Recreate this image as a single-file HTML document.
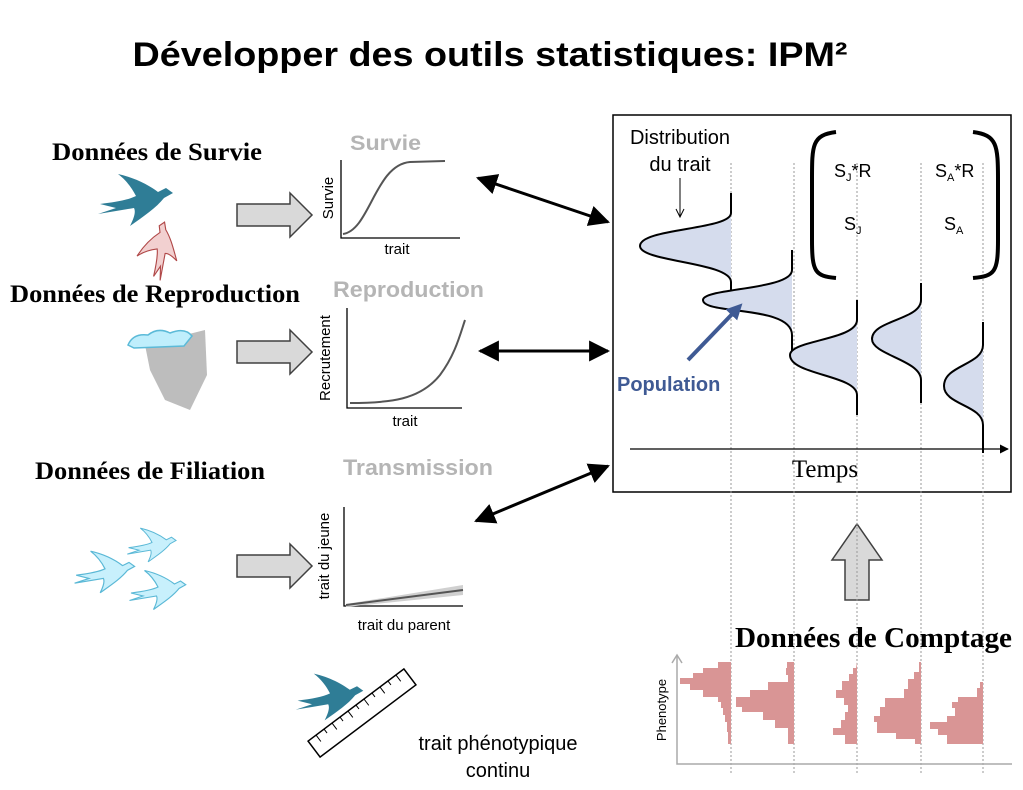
<!DOCTYPE html>
<html><head><meta charset="utf-8"><style>
html,body{margin:0;padding:0;background:#fff;}
svg{display:block;}
</style></head><body>
<svg width="1023" height="790" viewBox="0 0 1023 790" xmlns="http://www.w3.org/2000/svg">
<defs>
<path id="bird" d="M-36,4 C-20,2 -8,0 0,-4 C-4,-12 -10,-20 -18,-26 C0,-22 14,-14 22,-8 L30,-12 L37,-7 L28,-2 C20,8 8,16 -6,26 C-2,18 0,12 -2,8 C-14,10 -26,12 -38,14 L-20,8 Z"/>
<marker id="ah" viewBox="0 0 10 10" refX="9" refY="5" markerWidth="7" markerHeight="7" orient="auto-start-reverse"><path d="M0,0 L10,5 L0,10 z" fill="#000"/></marker>
<marker id="ab" viewBox="0 0 10 10" refX="6" refY="5" markerWidth="4" markerHeight="4" orient="auto"><path d="M0,0 L10,5 L0,10 z" fill="#3f5a94"/></marker>
</defs>
<text x="490" y="66" text-anchor="middle" font-family="Liberation Sans, sans-serif" font-weight="bold" font-size="34" textLength="715" lengthAdjust="spacingAndGlyphs">Développer des outils statistiques: IPM²</text>

<g font-family="Liberation Serif, serif" font-weight="bold" font-size="25">
<text x="52" y="160" textLength="210" lengthAdjust="spacingAndGlyphs">Données de Survie</text>
<text x="10" y="302" textLength="290" lengthAdjust="spacingAndGlyphs">Données de Reproduction</text>
<text x="35" y="479" textLength="230" lengthAdjust="spacingAndGlyphs">Données de Filiation</text>
</g>

<use href="#bird" transform="translate(136,200)" fill="#2f7d96"/>
<g transform="translate(160,250) rotate(-70) scale(0.75)"><use href="#bird" fill="#f2d0d0" stroke="#b04848" stroke-width="1.5"/></g>
<path d="M145,345 L205,330 L207,375 L190,410 L165,400 L150,370 Z" fill="#bdbdbd"/>
<path d="M128,345 q5,-12 20,-10 q10,-8 22,-2 q15,-6 22,3 l-8,10 l-50,2 z" fill="#bfeefc" stroke="#5bbad8" stroke-width="1.5"/>
<g fill="#c8f0fc" stroke="#5ab8d6" stroke-width="1.5">
<use href="#bird" transform="translate(105,572) scale(0.8)"/>
<use href="#bird" transform="translate(152,545) scale(0.65)"/>
<use href="#bird" transform="translate(158,590) scale(0.75)"/>
</g>

<g fill="#d9d9d9" stroke="#404040" stroke-width="1.5">
<path d="M237,204 L290,204 L290,193 L312,215 L290,237 L290,226 L237,226 Z"/>
<path d="M237,341 L290,341 L290,330 L312,352 L290,374 L290,363 L237,363 Z"/>
<path d="M237,555 L290,555 L290,544 L312,566 L290,588 L290,577 L237,577 Z"/>
<path d="M845,600 L845,560 L832,560 L857,524 L882,560 L869,560 L869,600 Z"/>
</g>

<g font-family="Liberation Sans, sans-serif">
<text x="350" y="150" font-weight="bold" font-size="21" fill="#b5b5b5" textLength="71" lengthAdjust="spacingAndGlyphs">Survie</text>
<text x="333" y="297" font-weight="bold" font-size="22" fill="#b5b5b5" textLength="151" lengthAdjust="spacingAndGlyphs">Reproduction</text>
<text x="343" y="475" font-weight="bold" font-size="22" fill="#b5b5b5" textLength="150" lengthAdjust="spacingAndGlyphs">Transmission</text>
<text x="397" y="254" text-anchor="middle" font-size="15">trait</text>
<text x="405" y="426" text-anchor="middle" font-size="15">trait</text>
<text x="404" y="630" text-anchor="middle" font-size="15">trait du parent</text>
<text transform="translate(333,198) rotate(-90)" text-anchor="middle" font-size="15">Survie</text>
<text transform="translate(330,358) rotate(-90)" text-anchor="middle" font-size="15">Recrutement</text>
<text transform="translate(329,556) rotate(-90)" text-anchor="middle" font-size="15">trait du jeune</text>
</g>
<g stroke="#000" stroke-width="1.3" fill="none">
<path d="M341,160 L341,238 L460,238"/>
<path d="M347,308 L347,408 L462,408"/>
<path d="M344,507 L344,606 L463,606"/>
</g>
<g stroke="#555" stroke-width="2" fill="none">
<path d="M343,234 C370,230 375,165 410,162 L445,161"/>
<path d="M350,403 C390,403 420,400 440,375 C455,355 460,335 465,320"/>
</g>
<path d="M346,604 L463,585 L463,595 L346,607 Z" fill="#d0d0d0"/>
<path d="M346,605 L463,590" stroke="#555" stroke-width="2"/>

<g stroke="#000" stroke-width="3" marker-start="url(#ah)" marker-end="url(#ah)">
<line x1="478" y1="178" x2="608" y2="222"/>
<line x1="480" y1="351" x2="608" y2="351"/>
<line x1="476" y1="521" x2="608" y2="466"/>
</g>

<rect x="613" y="115" width="398" height="377" fill="none" stroke="#000" stroke-width="1.5"/>
<g stroke="#999" stroke-width="1" stroke-dasharray="2,2">
<line x1="731" y1="163" x2="731" y2="775"/>
<line x1="794" y1="163" x2="794" y2="775"/>
<line x1="857" y1="163" x2="857" y2="775"/>
<line x1="921" y1="163" x2="921" y2="775"/>
<line x1="983" y1="163" x2="983" y2="775"/>
</g>
<g stroke="#000" stroke-width="2" fill="#d5dced">
<path d="M731,193 L731,213 C731,230 640,228 640,246 C640,262 731,262 731,282 L731,305"/>
<path d="M792,250 L792,270 C792,290 703,288 703,300 C703,315 792,305 792,335 L792,358"/>
<path d="M857,300 L857,320 C857,340 790,340 790,355 C790,375 857,375 857,395 L857,415"/>
<path d="M921,283 L921,300 C921,320 872,320 872,339 C872,355 921,360 921,380 L921,403"/>
<path d="M983,322 L983,345 C983,365 944,365 944,386 C944,405 983,405 983,425 L983,453"/>
</g>
<line x1="630" y1="449" x2="1008" y2="449" stroke="#000" stroke-width="1.3" marker-end="url(#ah)"/>
<text x="825" y="477" text-anchor="middle" font-family="Liberation Serif, serif" font-size="25">Temps</text>
<g font-family="Liberation Sans, sans-serif" font-size="20">
<text x="680" y="144" text-anchor="middle">Distribution</text>
<text x="680" y="171" text-anchor="middle">du trait</text>
</g>
<line x1="680" y1="178" x2="680" y2="216" stroke="#000" stroke-width="1"/>
<path d="M676,209 L680,217 L684,209" stroke="#000" fill="none"/>
<g stroke="#000" stroke-width="4" fill="none">
<path d="M836,132 C812,135 812,145 812,180 L812,240 C812,272 815,276 836,278"/>
<path d="M973,132 C997,135 998,145 998,180 L998,240 C998,272 995,276 973,278"/>
</g>
<g font-family="Liberation Sans, sans-serif" font-size="18">
<text x="834" y="177">S<tspan font-size="11" dy="4">J</tspan><tspan dy="-4">*R</tspan></text>
<text x="935" y="177">S<tspan font-size="11" dy="4">A</tspan><tspan dy="-4">*R</tspan></text>
<text x="844" y="230">S<tspan font-size="11" dy="4">J</tspan></text>
<text x="944" y="230">S<tspan font-size="11" dy="4">A</tspan></text>
</g>
<line x1="688" y1="360" x2="738" y2="308" stroke="#3f5a94" stroke-width="4" marker-end="url(#ab)"/>
<text x="617" y="391" font-family="Liberation Sans, sans-serif" font-weight="bold" font-size="20" fill="#3f5a94">Population</text>

<text x="735" y="647" font-family="Liberation Serif, serif" font-weight="bold" font-size="28" textLength="277" lengthAdjust="spacingAndGlyphs">Données de Comptage</text>
<g stroke="#aaa" stroke-width="1.5" fill="none">
<path d="M677,656 L677,764 L1012,764"/>
<path d="M672,663 L677,655 L682,663"/>
</g>
<text transform="translate(666,710) rotate(-90)" text-anchor="middle" font-family="Liberation Sans, sans-serif" font-size="13">Phenotype</text>
<g fill="#d99595">
<path d="M731,662 L718,662 L718,668 L703,668 L703,673 L693,673 L693,678 L680,678 L680,684 L690,684 L690,690 L703,690 L703,697 L718,697 L718,702 L721,702 L721,708 L723,708 L723,715 L725,715 L725,722 L727,722 L727,732 L728,732 L728,744 L731,744 Z"/>
<path d="M794,662 L787,662 L787,668 L786,668 L786,675 L788,675 L788,682 L768,682 L768,690 L750,690 L750,697 L736,697 L736,707 L742,707 L742,712 L763,712 L763,720 L775,720 L775,728 L788,728 L788,744 L794,744 Z"/>
<path d="M857,662 L856,668 L853,668 L853,674 L849,674 L849,681 L842,681 L842,690 L836,690 L836,698 L844,698 L844,705 L848,705 L848,712 L845,712 L845,720 L841,720 L841,728 L833,728 L833,735 L845,735 L845,744 L857,744 Z"/>
<path d="M921,662 L919,662 L919,672 L914,672 L914,679 L908,679 L908,689 L904,689 L904,698 L885,698 L885,707 L880,707 L880,716 L874,716 L874,722 L877,722 L877,733 L896,733 L896,739 L915,739 L915,744 L921,744 Z"/>
<path d="M983,662 L983,682 L980,682 L980,688 L977,688 L977,697 L958,697 L958,702 L952,702 L952,708 L955,708 L955,716 L947,716 L947,722 L930,722 L930,729 L938,729 L938,735 L947,735 L947,744 L983,744 Z"/>
</g>

<g transform="translate(362,713) rotate(-37)">
<rect x="-60" y="-10" width="120" height="20" fill="#fff" stroke="#000" stroke-width="1.5"/>
<g stroke="#000" stroke-width="1">
<path d="M-50,-10v8M-40,-10v5M-30,-10v8M-20,-10v5M-10,-10v8M0,-10v5M10,-10v8M20,-10v5M30,-10v8M40,-10v5M50,-10v8"/>
</g>
</g>
<use href="#bird" transform="translate(330,697) scale(0.9)" fill="#2f7d96"/>
<g font-family="Liberation Sans, sans-serif" font-size="20">
<text x="498" y="750" text-anchor="middle">trait phénotypique</text>
<text x="498" y="777" text-anchor="middle">continu</text>
</g>
</svg>
</body></html>
